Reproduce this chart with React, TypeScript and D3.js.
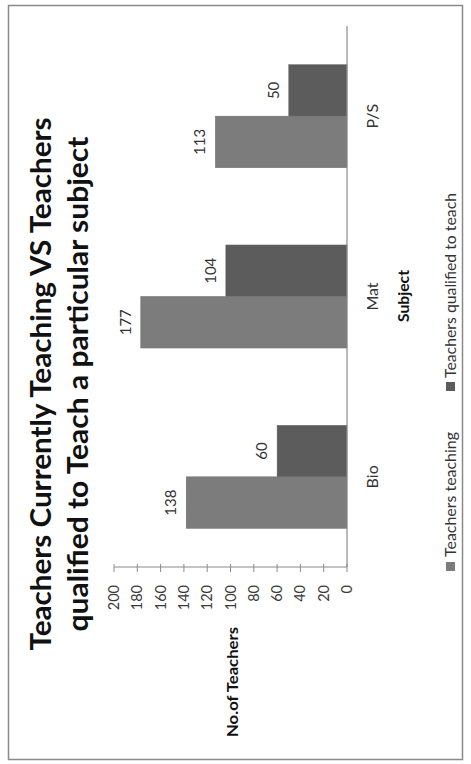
import React from "react";
import * as d3 from "d3";

// Teacher counts per subject
const subjects = ["Bio", "Mat", "P/S"];
const seriesKeys = ["qualified", "teaching"];
const seriesNames: Record<string, string> = {
  teaching: "Teachers teaching",
  qualified: "Teachers qualified to teach",
};
const teaching = [138, 177, 113];
const qualified = [60, 104, 50];
const valueTicks = [0, 20, 40, 60, 80, 100, 120, 140, 160, 180, 200];

const titleLines = [
  "Teachers Currently Teaching VS Teachers",
  "qualified to Teach a particular subject",
];

const W = 471;
const H = 764;
const FONT = "Lato, 'Noto Sans', sans-serif";
const seriesColor: Record<string, string> = {
  teaching: "#7c7c7c",
  qualified: "#5c5c5c",
};

export default function App() {
  // The chart is laid out turned a quarter turn: values grow leftwards,
  // categories run from bottom to top.
  const x = d3.scaleLinear().domain([0, 200]).range([347, 114]);
  const y = d3.scaleBand<string>().domain(subjects).range([567, 26]);
  const inner = d3
    .scaleBand<string>()
    .domain(seriesKeys)
    .range([0, y.bandwidth()])
    .paddingInner(0)
    .paddingOuter(0.75);

  const values: Record<string, number[]> = { teaching, qualified };

  const bars = subjects.flatMap((s, i) =>
    seriesKeys.map((k) => ({
      subject: s,
      key: k,
      value: values[k][i],
    }))
  );

  return (
    <svg
      width={W}
      height={H}
      style={{ position: "absolute", left: 0, top: 0, background: "#fff" }}
      fontFamily={FONT}
    >
      <rect x={8.5} y={5.5} width={454} height={754} fill="#fff" stroke="#8a8a8a" strokeWidth={1.5} />

      {/* title */}
      {titleLines.map((t, i) => (
        <text
          key={t}
          transform={`translate(${i === 0 ? 51 : 88},384) rotate(-90)`}
          textAnchor="middle"
          fontSize={29}
          fontWeight={700}
          fill="#111"
          textLength={i === 0 ? 533 : 495}
          lengthAdjust="spacingAndGlyphs"
        >
          {t}
        </text>
      ))}

      {/* bars */}
      {bars.map((b) => {
        const y0 = (y(b.subject) as number) + (inner(b.key) as number);
        return (
          <rect
            key={b.subject + b.key}
            x={x(b.value)}
            y={y0}
            width={x(0) - x(b.value)}
            height={inner.bandwidth()}
            fill={seriesColor[b.key]}
            stroke="#6a6a6a"
            strokeWidth={0.5}
          />
        );
      })}

      {/* data labels */}
      {bars.map((b) => {
        const yc = (y(b.subject) as number) + (inner(b.key) as number) + inner.bandwidth() / 2;
        return (
          <text
            key={"l" + b.subject + b.key}
            transform={`translate(${x(b.value) - 10},${yc}) rotate(-90)`}
            textAnchor="middle"
            fontSize={15}
            fill="#333"
          >
            {b.value}
          </text>
        );
      })}

      {/* category axis */}
      <line x1={347} x2={347} y1={26} y2={567} stroke="#8a8a8a" strokeWidth={1.2} />
      {subjects.map((s) => (
        <text
          key={"c" + s}
          transform={`translate(378,${(y(s) as number) + y.bandwidth() / 2}) rotate(-90)`}
          textAnchor="middle"
          fontSize={16}
          fill="#333"
        >
          {s}
        </text>
      ))}

      {/* value axis */}
      <line x1={x(200)} x2={x(0)} y1={567} y2={567} stroke="#8a8a8a" strokeWidth={1.2} />
      {valueTicks.map((t) => (
        <g key={"v" + t}>
          <line x1={x(t)} x2={x(t)} y1={564} y2={572} stroke="#8a8a8a" strokeWidth={1} />
          <text
            transform={`translate(${x(t)},585) rotate(-90)`}
            textAnchor="end"
            dy="0.35em"
            fontSize={14.5}
            fill="#3a3a3a"
          >
            {t}
          </text>
        </g>
      ))}

      {/* axis titles */}
      <text
        transform="translate(238,682) rotate(-90)"
        textAnchor="middle"
        fontSize={16}
        fontWeight={700}
        fill="#111"
        textLength={110}
        lengthAdjust="spacingAndGlyphs"
      >
        No.of Teachers
      </text>
      <text
        transform="translate(409,296) rotate(-90)"
        textAnchor="middle"
        fontSize={16}
        fontWeight={700}
        fill="#111"
        textLength={52}
        lengthAdjust="spacingAndGlyphs"
      >
        Subject
      </text>

      {/* legend */}
      {[
        { key: "teaching", y: 562, textY: 557, len: 125 },
        { key: "qualified", y: 382, textY: 378, len: 185 },
      ].map((l) => (
        <g key={"lg" + l.key}>
          <rect x={446} y={l.y} width={9} height={9} fill={seriesColor[l.key]} />
          <text
            transform={`translate(456,${l.textY}) rotate(-90)`}
            textAnchor="start"
            fontSize={16}
            fill="#333"
            textLength={l.len}
            lengthAdjust="spacingAndGlyphs"
          >
            {seriesNames[l.key]}
          </text>
        </g>
      ))}
    </svg>
  );
}
